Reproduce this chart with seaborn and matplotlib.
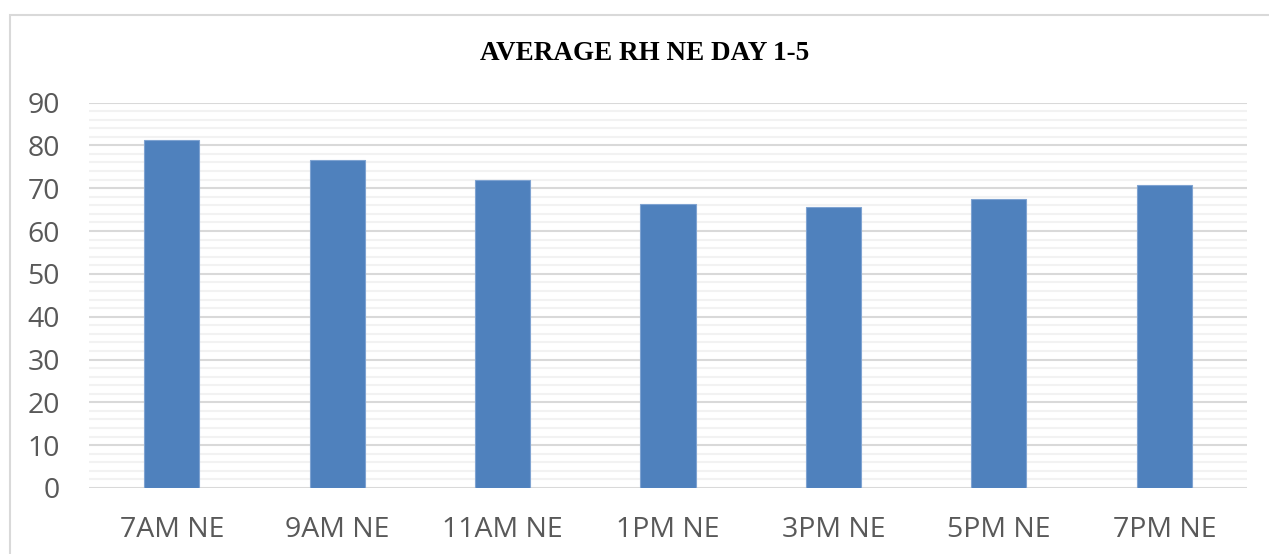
import pandas as pd
import matplotlib.pyplot as plt
import seaborn as sns
from matplotlib.patches import Rectangle
from matplotlib.ticker import MultipleLocator

# data
times = ["7AM NE", "9AM NE", "11AM NE", "1PM NE", "3PM NE", "5PM NE", "7PM NE"]
avg_rh = [81.2, 76.6, 71.9, 66.3, 65.5, 67.5, 70.7]

df = pd.DataFrame({"Time": times, "RH": avg_rh})

sns.set_theme(style="white")
plt.rcParams["font.family"] = ["Open Sans", "DejaVu Sans"]

W, H = 1269, 554
fig = plt.figure(figsize=(W / 100, H / 100), dpi=100)
ax = fig.add_axes([89 / W, 1 - 488 / H, (1247 - 89) / W, (488 - 102.5) / H])

sns.barplot(data=df, x="Time", y="RH", color="#4F81BD", width=0.333,
            saturation=1, edgecolor="#7FA3D1", linewidth=0.8, ax=ax, zorder=3)

ax.set_ylim(0, 90)
ax.set_xlim(-0.5, len(times) - 0.5)
ax.yaxis.set_major_locator(MultipleLocator(10))
ax.yaxis.set_minor_locator(MultipleLocator(2))
ax.grid(axis="y", which="major", color="#D9D9D9", linewidth=1.5, zorder=0)
ax.grid(axis="y", which="minor", color="#F2F2F2", linewidth=1.5, zorder=0)
ax.set_axisbelow(True)
for s in ax.spines.values():
    s.set_visible(False)
ax.tick_params(axis="both", which="both", length=0, labelsize=20.5, colors="#595959")
ax.tick_params(axis="y", pad=21)
ax.tick_params(axis="x", pad=20)
ax.set_xlabel("")
ax.set_ylabel("")

fig.text(645 / W, 1 - 53 / H, "AVERAGE RH NE DAY 1-5", ha="center", va="center",
         fontsize=19.5, fontweight="bold", family=["Liberation Serif", "DejaVu Serif"],
         color="black")

# outer chart frame (only left and top are visible in the crop)
fig.patches.append(Rectangle((9.5 / W, -0.1), 2, (H - 15) / H + 0.1,
                             transform=fig.transFigure, fill=False,
                             edgecolor="#D9D9D9", linewidth=1.5))

fig.savefig("out.png", dpi=100)
